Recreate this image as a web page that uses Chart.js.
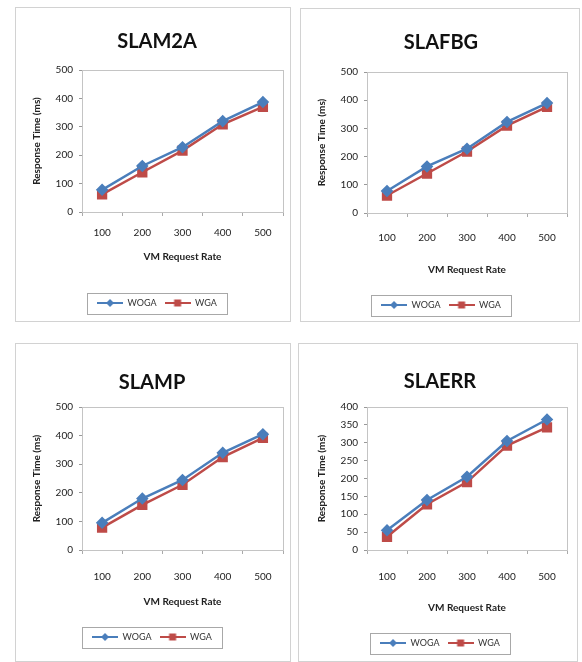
<!DOCTYPE html>
<html>
<head>
<meta charset="utf-8">
<script src="https://cdn.jsdelivr.net/npm/chart.js@4.4.0/dist/chart.umd.min.js"></script>
<style>
  html, body { margin: 0; padding: 0; background: #fff; overflow: hidden; }
  body { width: 582px; height: 662px; position: relative; }
  canvas { position: absolute; }
</style>
</head>
<body>
<canvas id="c1"></canvas>
<canvas id="c2"></canvas>
<canvas id="c3"></canvas>
<canvas id="c4"></canvas>
<script>
// data
const categories = ["100", "200", "300", "400", "500"];
const seriesNames = ["WOGA", "WGA"];

const slam2aWOGA = [78, 162, 228, 320, 387];
const slam2aWGA = [62, 140, 216, 309, 370];
const slafbgWOGA = [78, 165, 228, 323, 390];
const slafbgWGA = [62, 140, 218, 310, 376];
const slampWOGA = [95, 180, 245, 340, 405];
const slampWGA = [78, 158, 228, 325, 392];
const slaerrWOGA = [55, 140, 205, 305, 365];
const slaerrWGA = [37, 128, 190, 292, 343];

const yTicks500 = [0, 100, 200, 300, 400, 500];
const yTicks400 = [0, 50, 100, 150, 200, 250, 300, 350, 400];

const BLUE = "#4a7ebb";
const RED = "#be4b48";
const FONT = "Lato, 'Open Sans', sans-serif";

// where each panel sits on the page (page pixels)
const panels = [
  { id: "c1", box: { x: 15, y: 7, w: 276, h: 315 }, titleX: 160, titleY: 42, plot: { l: 82, t: 70, r: 283, b: 212 }, tickY: 233, xTitleY: 257, legendY: 303, yTitleX: 37 },
  { id: "c2", box: { x: 300, y: 8, w: 280, h: 314 }, titleX: 441, titleY: 43, plot: { l: 367, t: 72, r: 567, b: 213 }, tickY: 238, xTitleY: 270, legendY: 305, yTitleX: 322 },
  { id: "c3", box: { x: 15, y: 343, w: 276, h: 319 }, titleX: 152, titleY: 383, plot: { l: 82, t: 407, r: 283, b: 550 }, tickY: 577, xTitleY: 602, legendY: 637, yTitleX: 37 },
  { id: "c4", box: { x: 298, y: 343, w: 280, h: 319 }, titleX: 440, titleY: 382, plot: { l: 367, t: 407, r: 567, b: 550 }, tickY: 577, xTitleY: 608, legendY: 643, yTitleX: 322 }
];

// line + marker icon for the legend, like excel
function legendIcon(color, shape) {
  const c = document.createElement("canvas");
  c.width = 26; c.height = 10;
  const g = c.getContext("2d");
  g.strokeStyle = color; g.lineWidth = 2;
  g.beginPath(); g.moveTo(0, 5); g.lineTo(26, 5); g.stroke();
  g.fillStyle = color;
  g.beginPath();
  if (shape === "diamond") {
    g.moveTo(13, 1); g.lineTo(17, 5); g.lineTo(13, 9); g.lineTo(9, 5);
  } else {
    g.rect(9.5, 1.5, 7, 7);
  }
  g.fill();
  return c;
}
const icons = [legendIcon(BLUE, "diamond"), legendIcon(RED, "square")];

const framePlugin = {
  id: "frame",
  beforeDraw(chart) {
    const ctx = chart.ctx;
    ctx.save();
    ctx.fillStyle = "#fff";
    ctx.fillRect(0, 0, chart.width, chart.height);
    ctx.strokeStyle = "#d2d2d2";
    ctx.lineWidth = 1;
    ctx.strokeRect(0.5, 0.5, chart.width - 1, chart.height - 1);
    ctx.restore();
  },
  beforeDatasetsDraw(chart) {
    const a = chart.chartArea, ctx = chart.ctx;
    ctx.save();
    ctx.strokeStyle = "#c4c4c4";
    ctx.lineWidth = 1;
    ctx.strokeRect(Math.round(a.left) + 0.5, Math.round(a.top) + 0.5, Math.round(a.right - a.left), Math.round(a.bottom - a.top));
    ctx.restore();
  },
  afterDraw(chart) {
    const hb = chart.legend.legendHitBoxes;
    if (!hb || !hb.length) return;
    let l = Infinity, r = -Infinity, t = Infinity, b = -Infinity;
    hb.forEach(h => {
      l = Math.min(l, h.left); r = Math.max(r, h.left + h.width);
      t = Math.min(t, h.top); b = Math.max(b, h.top + h.height);
    });
    const ctx = chart.ctx;
    ctx.save();
    ctx.strokeStyle = "#a8a8a8";
    ctx.lineWidth = 1;
    ctx.strokeRect(Math.round(l - 10) + 0.5, Math.round(t - 6) + 0.5, Math.round(r - l + 20), Math.round(b - t + 12));
    ctx.restore();
  }
};

function build(p, title, woga, wga, yTicks) {
  const cv = document.getElementById(p.id);
  cv.width = p.box.w; cv.height = p.box.h;
  cv.style.left = p.box.x + "px"; cv.style.top = p.box.y + "px";
  const L = v => v - p.box.x, T = v => v - p.box.y;

  const titleLH = 20 * 1.2;
  const tPadTop = T(p.titleY) - titleLH / 2;
  const tPadBot = T(p.plot.t) - tPadTop - titleLH;
  const legPad = 8, legFont = 9;
  const legTop = T(p.legendY) - legPad - legFont / 2;
  const legH = legFont + legPad + 10;
  const padBottom = p.box.h - legTop - legH;
  const xAxisH = legTop - T(p.plot.b);
  const xTickPad = T(p.tickY) - T(p.plot.b) - 4 - 6;
  const xTitlePadBot = legTop - T(p.xTitleY) - 6;
  const padRight = p.box.w - L(p.plot.r);
  // left padding shifts the title / legend centre; keep room for the y title
  const padLeft = Math.max(0, Math.min(2 * L(p.titleX) - (p.box.w - padRight), L(p.yTitleX) - 6));
  const yAxisW = L(p.plot.l) - padLeft;
  const yTitlePadTop = L(p.yTitleX) - 6 - padLeft;

  return new Chart(cv, {
    type: "line",
    data: {
      labels: categories,
      datasets: [
        { label: seriesNames[0], data: woga, borderColor: BLUE, backgroundColor: BLUE, borderWidth: 2.5,
          pointStyle: "rectRot", pointRadius: 4.5, pointBorderColor: BLUE, pointBackgroundColor: BLUE, tension: 0 },
        { label: seriesNames[1], data: wga, borderColor: RED, backgroundColor: RED, borderWidth: 2.5,
          pointStyle: "rect", pointRadius: 5.5, pointBorderColor: RED, pointBackgroundColor: RED, tension: 0 }
      ]
    },
    options: {
      responsive: false,
      animation: false,
      layout: { padding: { top: 0, left: padLeft, right: padRight, bottom: padBottom } },
      plugins: {
        title: {
          display: true, text: title, color: "#111",
          font: { family: FONT, size: 20, weight: "bold" },
          padding: { top: tPadTop, bottom: tPadBot }
        },
        legend: {
          position: "bottom",
          labels: {
            usePointStyle: true, pointStyleWidth: 26, padding: legPad,
            color: "#333", font: { family: FONT, size: legFont },
            generateLabels(chart) {
              const items = Chart.defaults.plugins.legend.labels.generateLabels(chart);
              items.forEach((it, i) => { it.pointStyle = icons[i]; });
              return items;
            }
          }
        },
        tooltip: { enabled: false }
      },
      scales: {
        x: {
          offset: true,
          grid: { display: true, drawOnChartArea: false, offset: true, tickLength: 4, color: "#aaa" },
          border: { color: "#8a8a8a" },
          ticks: { padding: xTickPad, color: "#222", font: { family: FONT, size: 10 } },
          title: { display: true, text: "VM Request Rate", color: "#222",
            font: { family: FONT, size: 10, weight: "bold" }, padding: { top: 0, bottom: xTitlePadBot } },
          afterFit(scale) { scale.height = xAxisH; }
        },
        y: {
          min: yTicks[0], max: yTicks[yTicks.length - 1],
          grid: { display: true, drawOnChartArea: false, tickLength: 3, color: "#999" },
          border: { color: "#8a8a8a" },
          ticks: { stepSize: yTicks[1] - yTicks[0], padding: 6, color: "#222", font: { family: FONT, size: 10 } },
          title: { display: true, text: "Response Time (ms)", color: "#222",
            font: { family: FONT, size: 10, weight: "bold" }, padding: { top: yTitlePadTop, bottom: 0 } },
          afterFit(scale) { scale.width = yAxisW; }
        }
      }
    },
    plugins: [framePlugin]
  });
}

build(panels[0], "SLAM2A", slam2aWOGA, slam2aWGA, yTicks500);
build(panels[1], "SLAFBG", slafbgWOGA, slafbgWGA, yTicks500);
build(panels[2], "SLAMP", slampWOGA, slampWGA, yTicks500);
build(panels[3], "SLAERR", slaerrWOGA, slaerrWGA, yTicks400);
</script>
</body>
</html>
